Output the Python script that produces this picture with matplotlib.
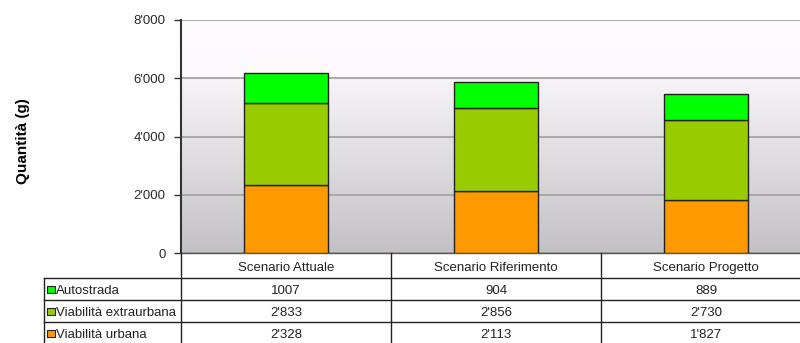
import matplotlib.pyplot as plt
import numpy as np
from matplotlib.patches import Rectangle
from matplotlib.ticker import FuncFormatter

scenari = ["Scenario Attuale", "Scenario Riferimento", "Scenario Progetto"]
serie = ["Autostrada", "Viabilità extraurbana", "Viabilità urbana"]
autostrada = [1007, 904, 889]
extraurbana = [2833, 2856, 2730]
urbana = [2328, 2113, 1827]
colori = {"Autostrada": "#00ff00", "Viabilità extraurbana": "#99cc00", "Viabilità urbana": "#ff9900"}
# the Autostrada row is shown without thousands separator
separatore = {"Autostrada": False, "Viabilità extraurbana": True, "Viabilità urbana": True}
valori = {"Autostrada": autostrada, "Viabilità extraurbana": extraurbana, "Viabilità urbana": urbana}

plt.rcParams["font.family"] = ["Liberation Sans", "DejaVu Sans"]

W, H = 800, 343


def box(l, t, r, b):
    return [l / W, 1 - b / H, (r - l) / W, (b - t) / H]


def fmt(v, sep=True):
    v = int(round(v))
    return f"{v:,}".replace(",", "'") if sep else str(v)


fig = plt.figure(figsize=(W / 100, H / 100), dpi=100)
fig.patch.set_facecolor("white")

ax_left, ax_right, ax_top, ax_bottom = 181, 811, 20, 253
ax = fig.add_axes(box(ax_left, ax_top, ax_right, ax_bottom))

# background: near white above 6000, grey gradient below
yy = np.linspace(0, 8000, 400)
alto = np.array([1.0, 0.988, 1.0])
alto2 = np.array([0.992, 0.976, 0.992])
mid = np.array([0.965, 0.957, 0.968])
basso = np.array([0.765, 0.757, 0.773])
img = np.empty((len(yy), 3))
for k, yv in enumerate(yy):
    if yv >= 6000:
        t = (yv - 6000) / 2000
        img[k] = alto2 + (alto - alto2) * t
    else:
        t = yv / 6000
        img[k] = basso + (mid - basso) * t
img = np.repeat(img[:, None, :], 2, axis=1)
ax.imshow(img, extent=[-0.5, 2.5, 0, 8000], origin="lower", aspect="auto", zorder=0)

x = np.arange(len(scenari))
bottom = np.zeros(len(scenari))
for nome in ["Viabilità urbana", "Viabilità extraurbana", "Autostrada"]:
    ax.bar(x, valori[nome], 0.4, bottom=bottom, color=colori[nome],
           edgecolor="#222222", linewidth=1, zorder=3)
    bottom += np.array(valori[nome])

ax.set_xlim(-0.5, 2.5)
ax.set_ylim(0, 8000)
ax.set_yticks([0, 2000, 4000, 6000, 8000])
ax.yaxis.set_major_formatter(FuncFormatter(lambda v, p: fmt(v)))
ax.yaxis.grid(True, color="#a4a4a4", linewidth=1.3, zorder=1)
ax.set_axisbelow(True)
ax.set_xticks([])
ax.tick_params(axis="y", direction="out", length=5, width=1, color="#333333",
               labelsize=9.5, labelcolor="#2a2a2a", pad=6)
for s in ["top", "right"]:
    ax.spines[s].set_visible(False)
ax.spines["left"].set_color("#333333")
ax.spines["left"].set_linewidth(1.5)
ax.spines["bottom"].set_color("#555555")
ax.spines["bottom"].set_linewidth(1)
ax.set_ylabel("Quantità (g)", fontsize=11, fontweight="bold")
ax.yaxis.set_label_coords((30 - ax_left) / (ax_right - ax_left), (ax_bottom - 141) / (ax_bottom - ax_top))

# data table below the chart
tab = fig.add_axes([0, 0, 1, 1], zorder=5)
tab.set_xlim(0, W)
tab.set_ylim(H, 0)
tab.axis("off")

col_w = (ax_right - ax_left) / len(scenari)
line_kw = dict(color="#222222", linewidth=1)
row_y = [278, 300, 322, 344]
tab_left = 44

for i in range(len(scenari) + 1):
    xc = ax_left + i * col_w
    tab.plot([xc, xc], [ax_bottom, row_y[-1]], **line_kw)
tab.plot([tab_left, tab_left], [row_y[0], row_y[-1]], **line_kw)
for yl in row_y:
    tab.plot([tab_left, ax_right], [yl, yl], **line_kw)

txt_kw = dict(va="center_baseline", fontsize=9.5, color="#222222")
for i, s in enumerate(scenari):
    tab.text(ax_left + (i + 0.5) * col_w, (ax_bottom + row_y[0]) / 2 + 1, s,
             ha="center", **txt_kw)

for r, nome in enumerate(serie):
    yc = (row_y[r] + row_y[r + 1]) / 2
    tab.add_patch(Rectangle((47, yc - 3.5), 8, 7, facecolor=colori[nome],
                            edgecolor="#222222", linewidth=0.8))
    tab.text(55.5, yc, nome, ha="left", **txt_kw)
    for i, v in enumerate(valori[nome]):
        tab.text(ax_left + (i + 0.5) * col_w, yc, fmt(v, separatore[nome]),
                 ha="center", **txt_kw)

fig.savefig("out.png", dpi=100)
